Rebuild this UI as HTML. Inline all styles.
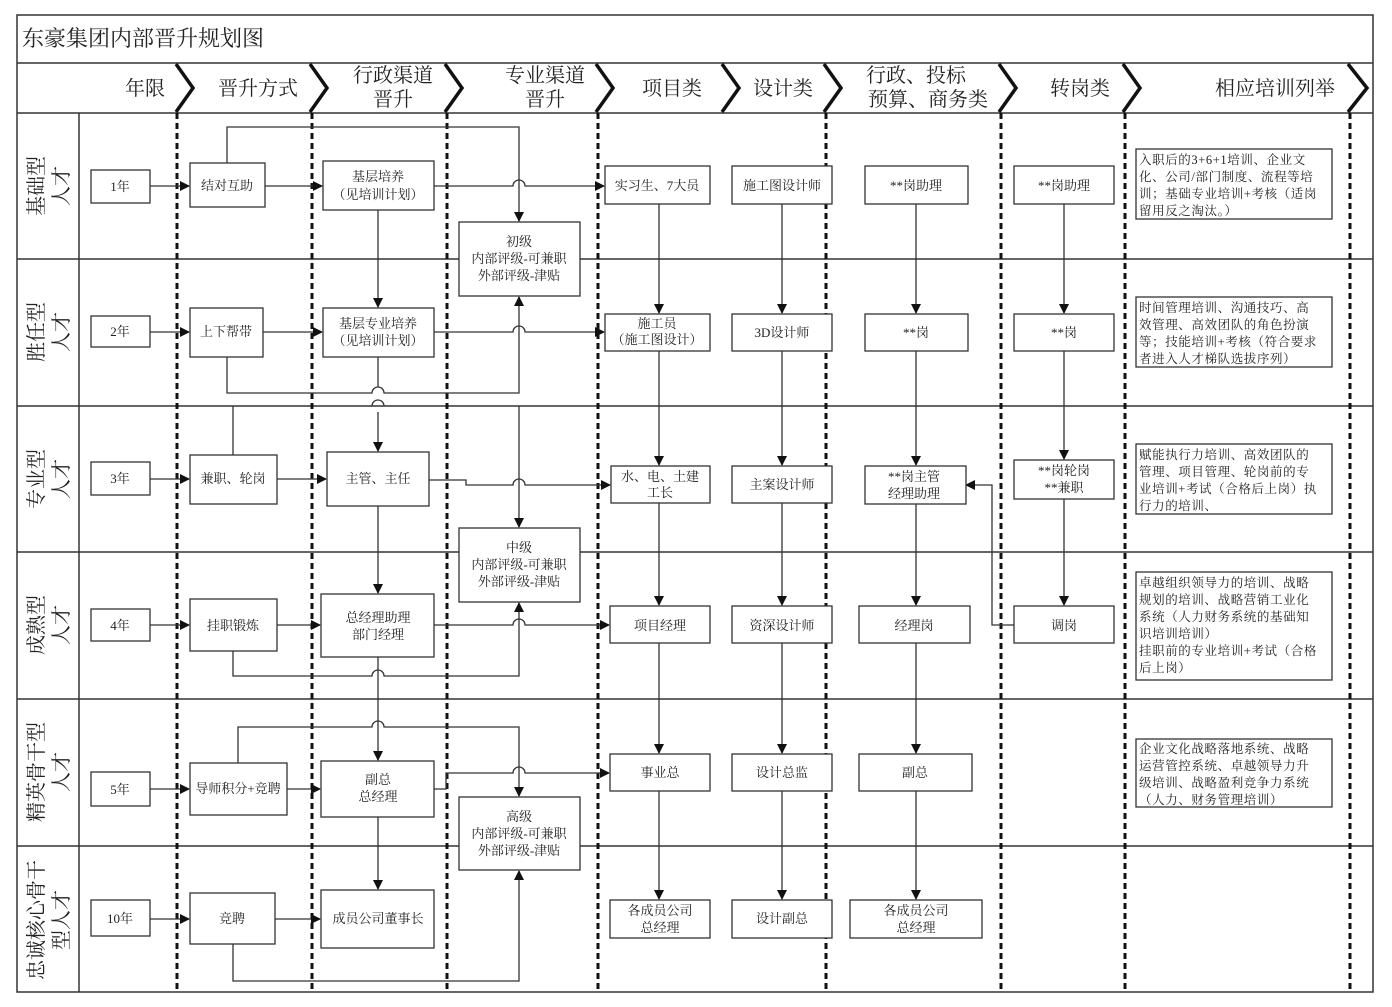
<!DOCTYPE html>
<html><head><meta charset="utf-8"><style>
html,body{margin:0;padding:0;background:#fff}
svg{display:block}
text{font-family:"Liberation Serif","Noto Serif CJK SC",serif;fill:#222}
.b{fill:#fff;stroke:#333;stroke-width:1.3}
.l{fill:none;stroke:#333;stroke-width:1.3}
.d{stroke:#111;stroke-width:3;stroke-dasharray:6 4}
.t{font-size:13px;text-anchor:middle}
.h{font-size:20px;text-anchor:middle}
.s{font-size:12.5px;letter-spacing:0.6px}
</style></head><body>
<svg width="1392" height="1007" viewBox="0 0 1392 1007" xmlns="http://www.w3.org/2000/svg">
<defs><marker id="a" markerWidth="10" markerHeight="10" refX="9" refY="5" orient="auto" markerUnits="userSpaceOnUse"><path d="M0,0 L10,5 L0,10 z" fill="#111"/></marker></defs>
<rect x="17" y="15" width="1356" height="977" fill="#fff" stroke="#333" stroke-width="1.5"/>
<line x1="17" y1="63" x2="1373" y2="63" stroke="#333" stroke-width="1.5"/>
<line x1="17" y1="113" x2="1373" y2="113" stroke="#333" stroke-width="1.5"/>
<text x="22" y="46" style="font-size:22px">东豪集团内部晋升规划图</text>
<g fill="none" stroke="#111" stroke-width="3.5">
<path d="M176,64 L193,88 L176,112"/><path d="M310,64 L327,88 L310,112"/><path d="M445,64 L462,88 L445,112"/><path d="M596,64 L613,88 L596,112"/><path d="M722,64 L739,88 L722,112"/><path d="M824,64 L841,88 L824,112"/><path d="M999,64 L1016,88 L999,112"/><path d="M1123,64 L1140,88 L1123,112"/><path d="M1348,64 L1367,88 L1348,112"/>
</g>
<text class="h" x="145" y="95">年限</text>
<text class="h" x="258" y="95">晋升方式</text>
<text class="h" x="393" y="82">行政渠道</text><text class="h" x="393" y="106">晋升</text>
<text class="h" x="545" y="82">专业渠道</text><text class="h" x="545" y="106">晋升</text>
<text class="h" x="672" y="95">项目类</text>
<text class="h" x="783" y="95">设计类</text>
<text class="h" x="916" y="82">行政、投标</text><text class="h" x="928" y="106">预算、商务类</text>
<text class="h" x="1080" y="95">转岗类</text>
<text class="h" x="1275" y="95">相应培训列举</text>
<g stroke="#333" stroke-width="1.5">
<line x1="17" y1="259" x2="1373" y2="259"/><line x1="17" y1="406" x2="1373" y2="406"/><line x1="17" y1="552" x2="1373" y2="552"/><line x1="17" y1="699" x2="1373" y2="699"/><line x1="17" y1="846" x2="1373" y2="846"/>
<line x1="79" y1="113" x2="79" y2="992"/>
</g>
<g class="d"><line x1="177" y1="113" x2="177" y2="992" class="d"/><line x1="312" y1="113" x2="312" y2="992" class="d"/><line x1="447" y1="113" x2="447" y2="992" class="d"/><line x1="598" y1="113" x2="598" y2="992" class="d"/><line x1="826" y1="113" x2="826" y2="992" class="d"/><line x1="1001" y1="113" x2="1001" y2="992" class="d"/><line x1="1125" y1="113" x2="1125" y2="992" class="d"/><line x1="1350" y1="113" x2="1350" y2="992" class="d"/></g>
<g style="font-size:20px">
<text transform="translate(43,216) rotate(-90)">基础型</text><text transform="translate(68,206) rotate(-90)">人才</text>
<text transform="translate(43,362) rotate(-90)">胜任型</text><text transform="translate(68,352) rotate(-90)">人才</text>
<text transform="translate(43,509) rotate(-90)">专业型</text><text transform="translate(68,499) rotate(-90)">人才</text>
<text transform="translate(43,655) rotate(-90)">成熟型</text><text transform="translate(68,645) rotate(-90)">人才</text>
<text transform="translate(43,822) rotate(-90)">精英骨干型</text><text transform="translate(68,792) rotate(-90)">人才</text>
<text transform="translate(43,980) rotate(-90)">忠诚核心骨干</text><text transform="translate(68,950) rotate(-90)">型人才</text>
</g>
<g class="l">
<path d="M150,186 H189" marker-end="url(#a)"/><path d="M265,186 H322" marker-end="url(#a)"/>
<path d="M434,186 H513 A6 6 0 0 1 525 186 H604" marker-end="url(#a)"/>
<path d="M227,163 V127 H519 V221" marker-end="url(#a)"/>
<path d="M378,210 V307" marker-end="url(#a)"/>
<path d="M150,332 H189" marker-end="url(#a)"/><path d="M263,332 H322" marker-end="url(#a)"/>
<path d="M434,332 H513 A6 6 0 0 1 525 332 H604" marker-end="url(#a)"/>
<path d="M227,357 V393 H372 A6 6 0 0 1 384 393 H519 V297" marker-end="url(#a)"/>
<path d="M378,357 V387 M378,412 V451" marker-end="url(#a)"/>
<path d="M372,406 A6 6 0 0 1 384 406" />
<path d="M233,406 V455"/>
<path d="M150,479 H189" marker-end="url(#a)"/><path d="M277,479 H326" marker-end="url(#a)"/>
<path d="M429,480 H466 V485 H513 A6 6 0 0 1 525 485 H610" marker-end="url(#a)"/>
<path d="M519,406 V527" marker-end="url(#a)"/>
<path d="M378,506 V593" marker-end="url(#a)"/>
<path d="M150,625 H189" marker-end="url(#a)"/><path d="M277,625 H320" marker-end="url(#a)"/>
<path d="M434,625 H513 A6 6 0 0 1 525 625 H609" marker-end="url(#a)"/>
<path d="M233,651 V676 H372 A6 6 0 0 1 384 676 H519 V603" marker-end="url(#a)"/>
<path d="M378,657 V760" marker-end="url(#a)"/>
<path d="M238,763 V727 H372 A6 6 0 0 1 384 727 H519 V796" marker-end="url(#a)"/>
<path d="M150,789 H189" marker-end="url(#a)"/><path d="M287,789 H320" marker-end="url(#a)"/>
<path d="M434,789 H446 V773 H513 A6 6 0 0 1 525 773 H609" marker-end="url(#a)"/>
<path d="M378,817 V889" marker-end="url(#a)"/>
<path d="M150,919 H189" marker-end="url(#a)"/><path d="M275,919 H320" marker-end="url(#a)"/>
<path d="M233,944 V981 H519 V871" marker-end="url(#a)"/>
<path d="M659,204 V313" marker-end="url(#a)"/><path d="M659,351 V465" marker-end="url(#a)"/><path d="M659,503 V605" marker-end="url(#a)"/><path d="M659,643 V753" marker-end="url(#a)"/><path d="M659,791 V899" marker-end="url(#a)"/>
<path d="M782,204 V313" marker-end="url(#a)"/><path d="M782,351 V465" marker-end="url(#a)"/><path d="M782,503 V605" marker-end="url(#a)"/><path d="M782,643 V753" marker-end="url(#a)"/><path d="M782,791 V899" marker-end="url(#a)"/>
<path d="M916,204 V313" marker-end="url(#a)"/><path d="M916,351 V465" marker-end="url(#a)"/><path d="M916,504 V605" marker-end="url(#a)"/><path d="M916,643 V753" marker-end="url(#a)"/><path d="M916,791 V899" marker-end="url(#a)"/>
<path d="M1064,204 V313" marker-end="url(#a)"/><path d="M1064,351 V459" marker-end="url(#a)"/><path d="M1064,499 V605" marker-end="url(#a)"/>
<path d="M1014,625 H992 V485 H966" marker-end="url(#a)"/>
</g>
<g>
<rect class="b" x="91" y="170" width="59" height="33"/><rect class="b" x="190" y="163" width="75" height="44"/><rect class="b" x="323" y="161" width="111" height="49"/><rect class="b" x="459" y="222" width="121" height="74"/><rect class="b" x="605" y="166" width="105" height="38"/><rect class="b" x="732" y="166" width="100" height="38"/><rect class="b" x="865" y="166" width="103" height="38"/><rect class="b" x="1014" y="166" width="100" height="38"/><rect class="b" x="1136" y="149" width="196" height="70"/>
<rect class="b" x="91" y="316" width="59" height="31"/><rect class="b" x="190" y="308" width="73" height="49"/><rect class="b" x="323" y="308" width="111" height="49"/><rect class="b" x="605" y="314" width="105" height="37"/><rect class="b" x="732" y="314" width="100" height="37"/><rect class="b" x="865" y="314" width="103" height="37"/><rect class="b" x="1014" y="314" width="100" height="37"/><rect class="b" x="1136" y="297" width="196" height="70"/>
<rect class="b" x="91" y="462" width="59" height="33"/><rect class="b" x="190" y="455" width="87" height="49"/><rect class="b" x="327" y="452" width="102" height="54"/><rect class="b" x="611" y="466" width="99" height="37"/><rect class="b" x="732" y="466" width="100" height="37"/><rect class="b" x="865" y="466" width="101" height="38"/><rect class="b" x="1014" y="460" width="100" height="39"/><rect class="b" x="1136" y="444" width="196" height="70"/>
<rect class="b" x="459" y="528" width="121" height="74"/>
<rect class="b" x="91" y="609" width="59" height="32"/><rect class="b" x="190" y="599" width="87" height="52"/><rect class="b" x="321" y="594" width="113" height="63"/><rect class="b" x="610" y="606" width="100" height="37"/><rect class="b" x="732" y="606" width="100" height="37"/><rect class="b" x="859" y="606" width="111" height="37"/><rect class="b" x="1014" y="606" width="100" height="37"/><rect class="b" x="1136" y="572" width="196" height="108"/>
<rect class="b" x="91" y="772" width="59" height="34"/><rect class="b" x="190" y="763" width="97" height="52"/><rect class="b" x="321" y="761" width="113" height="56"/><rect class="b" x="459" y="797" width="121" height="73"/><rect class="b" x="610" y="754" width="100" height="37"/><rect class="b" x="732" y="754" width="100" height="37"/><rect class="b" x="859" y="754" width="113" height="37"/><rect class="b" x="1136" y="739" width="196" height="68"/>
<rect class="b" x="91" y="900" width="59" height="36"/><rect class="b" x="190" y="893" width="85" height="51"/><rect class="b" x="321" y="890" width="113" height="58"/><rect class="b" x="610" y="900" width="100" height="38"/><rect class="b" x="732" y="900" width="100" height="38"/><rect class="b" x="850" y="900" width="132" height="38"/>
</g>
<g class="t">
<text x="120" y="191">1年</text><text x="227" y="190">结对互助</text><text x="378" y="181">基层培养</text><text x="378" y="199">（见培训计划）</text>
<text x="519" y="246">初级</text><text x="519" y="263">内部评级-可兼职</text><text x="519" y="280">外部评级-津贴</text>
<text x="657" y="190">实习生、7大员</text><text x="782" y="190">施工图设计师</text><text x="916" y="190">**岗助理</text><text x="1064" y="190">**岗助理</text>
<text x="120" y="336">2年</text><text x="226" y="336">上下帮带</text><text x="378" y="328">基层专业培养</text><text x="378" y="345">（见培训计划）</text>
<text x="657" y="328">施工员</text><text x="657" y="344">（施工图设计）</text><text x="782" y="337">3D设计师</text><text x="916" y="337">**岗</text><text x="1064" y="337">**岗</text>
<text x="120" y="483">3年</text><text x="233" y="483">兼职、轮岗</text><text x="378" y="483">主管、主任</text>
<text x="660" y="481">水、电、土建</text><text x="660" y="497">工长</text><text x="782" y="489">主案设计师</text><text x="914" y="481">**岗主管</text><text x="914" y="498">经理助理</text>
<text x="1064" y="475">**岗轮岗</text><text x="1064" y="492">**兼职</text>
<text x="519" y="552">中级</text><text x="519" y="569">内部评级-可兼职</text><text x="519" y="586">外部评级-津贴</text>
<text x="120" y="630">4年</text><text x="233" y="630">挂职锻炼</text><text x="378" y="622">总经理助理</text><text x="378" y="639">部门经理</text>
<text x="660" y="630">项目经理</text><text x="782" y="630">资深设计师</text><text x="914" y="630">经理岗</text><text x="1064" y="630">调岗</text>
<text x="120" y="794">5年</text><text x="238" y="793">导师积分+竞聘</text><text x="378" y="784">副总</text><text x="378" y="801">总经理</text>
<text x="519" y="821">高级</text><text x="519" y="838">内部评级-可兼职</text><text x="519" y="855">外部评级-津贴</text>
<text x="660" y="777">事业总</text><text x="782" y="777">设计总监</text><text x="915" y="777">副总</text>
<text x="120" y="923">10年</text><text x="232" y="923">竞聘</text><text x="378" y="923">成员公司董事长</text>
<text x="660" y="915">各成员公司</text><text x="660" y="932">总经理</text><text x="782" y="923">设计副总</text><text x="916" y="915">各成员公司</text><text x="916" y="932">总经理</text>
</g>
<g class="s">
<text x="1139" y="164">入职后的3+6+1培训、企业文</text><text x="1139" y="181">化、公司/部门制度、流程等培</text><text x="1139" y="198">训；基础专业培训+考核（适岗</text><text x="1139" y="215">留用反之淘汰。）</text>
<text x="1139" y="312">时间管理培训、沟通技巧、高</text><text x="1139" y="329">效管理、高效团队的角色扮演</text><text x="1139" y="346">等；技能培训+考核（符合要求</text><text x="1139" y="363">者进入人才梯队选拔序列）</text>
<text x="1139" y="459">赋能执行力培训、高效团队的</text><text x="1139" y="476">管理、项目管理、轮岗前的专</text><text x="1139" y="493">业培训+考试（合格后上岗）执</text><text x="1139" y="510">行力的培训、</text>
<text x="1139" y="587">卓越组织领导力的培训、战略</text><text x="1139" y="604">规划的培训、战略营销工业化</text><text x="1139" y="621">系统（人力财务系统的基础知</text><text x="1139" y="638">识培训培训）</text><text x="1139" y="655">挂职前的专业培训+考试（合格</text><text x="1139" y="672">后上岗）</text>
<text x="1139" y="753">企业文化战略落地系统、战略</text><text x="1139" y="770">运营管控系统、卓越领导力升</text><text x="1139" y="787">级培训、战略盈利竞争力系统</text><text x="1139" y="804">（人力、财务管理培训）</text>
</g>
</svg>
</body></html>
